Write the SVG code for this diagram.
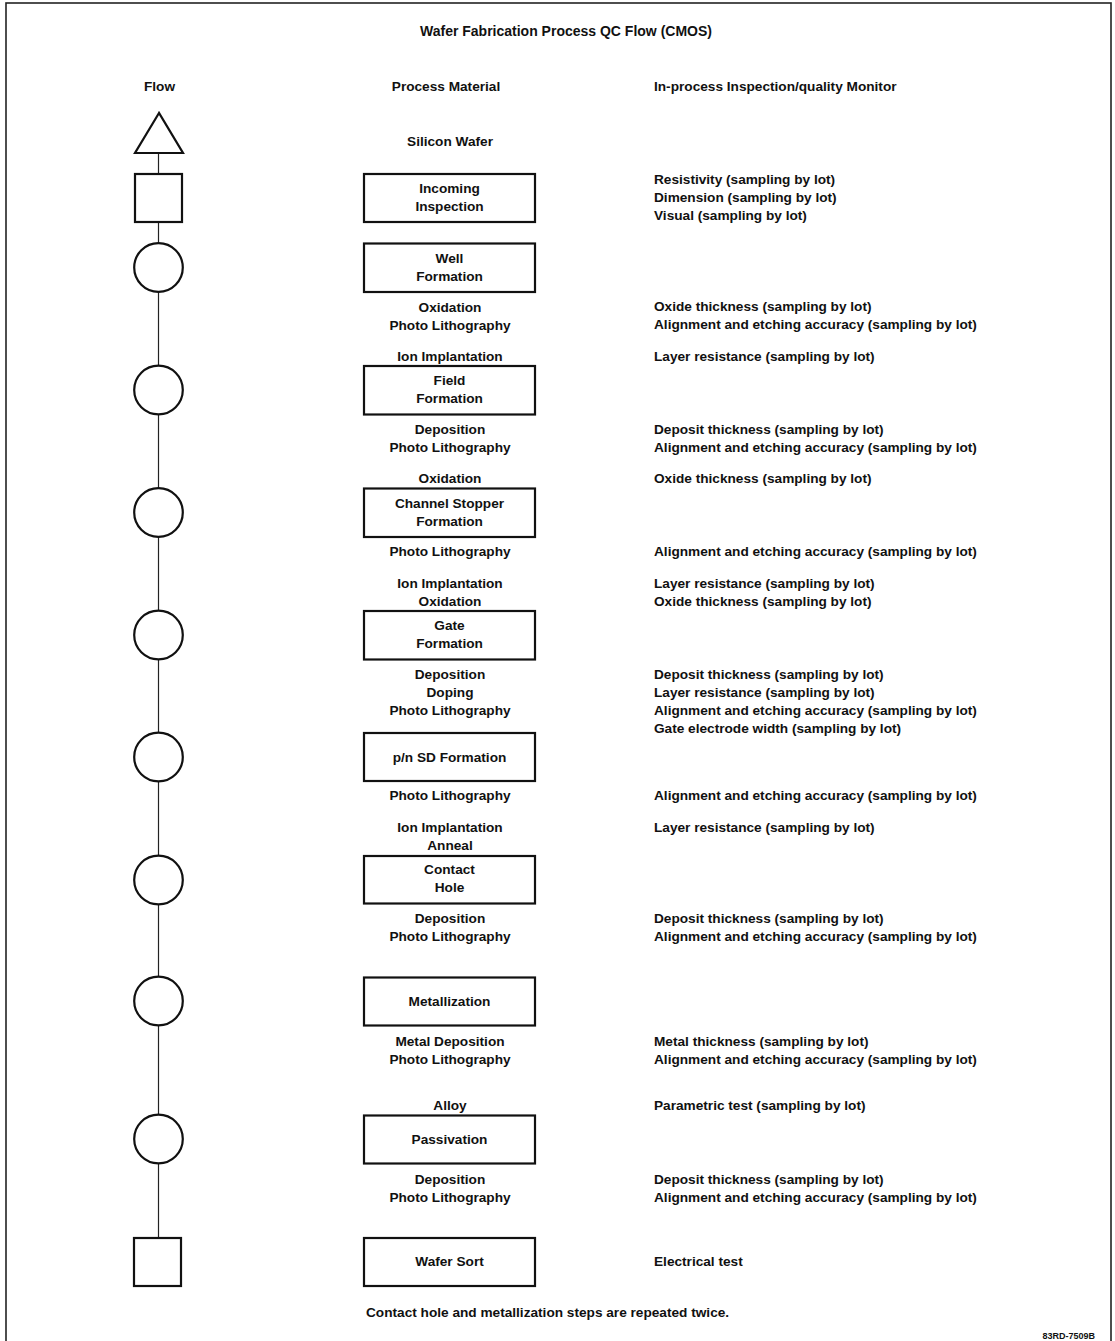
<svg xmlns="http://www.w3.org/2000/svg" width="1115" height="1341" viewBox="0 0 1115 1341">
  <style>
    text { font-family: "Liberation Sans", Arial, sans-serif; font-weight: bold; font-size: 13.65px; fill: #111; }
    .c { text-anchor: middle; }
    .title { font-size: 14px; }
    .sym { fill: #fff; stroke: #111; stroke-width: 2.2; }
    .box { fill: #fff; stroke: #111; stroke-width: 2.2; }
    .link { stroke: #222; stroke-width: 1.2; fill: none; }
    .frame { fill: none; stroke: #222; stroke-width: 1.6; }
    .tag { font-size: 9px; }
  </style>
  <rect width="1115" height="1341" fill="#fff"/>
  <rect class="frame" x="6" y="3" width="1105" height="1345"/>

  <!-- headings -->
  <g id="headings">
    <text class="c title" x="566" y="36">Wafer Fabrication Process QC Flow (CMOS)</text>
    <text class="c" x="159.5" y="91">Flow</text>
    <text class="c" x="446" y="91">Process Material</text>
    <text x="654" y="91">In-process Inspection/quality Monitor</text>
  </g>

  <!-- vertical flow line between symbols -->
  <g id="connectors">
    <line class="link" x1="158.5" y1="153" x2="158.5" y2="174"/>
    <line class="link" x1="158.5" y1="222" x2="158.5" y2="243"/>
    <line class="link" x1="158.5" y1="292" x2="158.5" y2="366"/>
    <line class="link" x1="158.5" y1="414" x2="158.5" y2="488"/>
    <line class="link" x1="158.5" y1="537" x2="158.5" y2="611"/>
    <line class="link" x1="158.5" y1="659" x2="158.5" y2="733"/>
    <line class="link" x1="158.5" y1="781" x2="158.5" y2="856"/>
    <line class="link" x1="158.5" y1="904" x2="158.5" y2="977"/>
    <line class="link" x1="158.5" y1="1025" x2="158.5" y2="1115"/>
    <line class="link" x1="158.5" y1="1163" x2="158.5" y2="1238"/>
  </g>

  <!-- flow symbols -->
  <g id="flow-material"><polygon class="sym" points="159,113 135,153 183,153"/></g>
  <g id="flow-incoming"><rect class="sym" x="135" y="174" width="47" height="48"/></g>
  <g id="flow-well"><circle class="sym" cx="158.5" cy="267.5" r="24.3"/></g>
  <g id="flow-field"><circle class="sym" cx="158.5" cy="390" r="24.3"/></g>
  <g id="flow-stopper"><circle class="sym" cx="158.5" cy="512.5" r="24.3"/></g>
  <g id="flow-gate"><circle class="sym" cx="158.5" cy="635" r="24.3"/></g>
  <g id="flow-sd"><circle class="sym" cx="158.5" cy="757" r="24.3"/></g>
  <g id="flow-contact"><circle class="sym" cx="158.5" cy="880" r="24.3"/></g>
  <g id="flow-metal"><circle class="sym" cx="158.5" cy="1001" r="24.3"/></g>
  <g id="flow-passivation"><circle class="sym" cx="158.5" cy="1139" r="24.3"/></g>
  <g id="flow-sort"><rect class="sym" x="134" y="1238" width="47" height="48"/></g>

  <!-- process material column -->
  <g id="silicon-wafer"><text class="c" x="450" y="146">Silicon Wafer</text></g>

  <g id="incoming-inspection">
    <rect class="box" x="364" y="174" width="171" height="48"/>
    <text class="c" x="449.5" y="193">Incoming</text>
    <text class="c" x="449.5" y="211">Inspection</text>
  </g>

  <g id="well-formation">
    <rect class="box" x="364" y="243.5" width="171" height="48.5"/>
    <text class="c" x="449.5" y="262.5">Well</text>
    <text class="c" x="449.5" y="280.5">Formation</text>
  </g>
  <g id="well-steps">
    <text class="c" x="450" y="311.5">Oxidation</text>
    <text class="c" x="450" y="329.5">Photo Lithography</text>
    <text class="c" x="450" y="361">Ion Implantation</text>
  </g>

  <g id="field-formation">
    <rect class="box" x="364" y="366" width="171" height="48.5"/>
    <text class="c" x="449.5" y="385">Field</text>
    <text class="c" x="449.5" y="403">Formation</text>
  </g>
  <g id="field-steps">
    <text class="c" x="450" y="434">Deposition</text>
    <text class="c" x="450" y="452">Photo Lithography</text>
    <text class="c" x="450" y="483">Oxidation</text>
  </g>

  <g id="channel-stopper-formation">
    <rect class="box" x="364" y="488.5" width="171" height="48.5"/>
    <text class="c" x="449.5" y="507.5">Channel Stopper</text>
    <text class="c" x="449.5" y="525.5">Formation</text>
  </g>
  <g id="stopper-steps">
    <text class="c" x="450" y="556">Photo Lithography</text>
    <text class="c" x="450" y="588">Ion Implantation</text>
    <text class="c" x="450" y="606">Oxidation</text>
  </g>

  <g id="gate-formation">
    <rect class="box" x="364" y="611" width="171" height="48.5"/>
    <text class="c" x="449.5" y="630">Gate</text>
    <text class="c" x="449.5" y="648">Formation</text>
  </g>
  <g id="gate-steps">
    <text class="c" x="450" y="679">Deposition</text>
    <text class="c" x="450" y="697">Doping</text>
    <text class="c" x="450" y="715">Photo Lithography</text>
  </g>

  <g id="sd-formation">
    <rect class="box" x="364" y="733" width="171" height="48"/>
    <text class="c" x="449.5" y="761.5">p/n SD Formation</text>
  </g>
  <g id="sd-steps">
    <text class="c" x="450" y="800">Photo Lithography</text>
    <text class="c" x="450" y="832">Ion Implantation</text>
    <text class="c" x="450" y="850">Anneal</text>
  </g>

  <g id="contact-hole">
    <rect class="box" x="364" y="856" width="171" height="47.5"/>
    <text class="c" x="449.5" y="874">Contact</text>
    <text class="c" x="449.5" y="892">Hole</text>
  </g>
  <g id="contact-steps">
    <text class="c" x="450" y="923">Deposition</text>
    <text class="c" x="450" y="941">Photo Lithography</text>
  </g>

  <g id="metallization">
    <rect class="box" x="364" y="977.5" width="171" height="48"/>
    <text class="c" x="449.5" y="1006">Metallization</text>
  </g>
  <g id="metal-steps">
    <text class="c" x="450" y="1046">Metal Deposition</text>
    <text class="c" x="450" y="1064">Photo Lithography</text>
    <text class="c" x="450" y="1110">Alloy</text>
  </g>

  <g id="passivation">
    <rect class="box" x="364" y="1115.5" width="171" height="48"/>
    <text class="c" x="449.5" y="1144">Passivation</text>
  </g>
  <g id="passivation-steps">
    <text class="c" x="450" y="1184">Deposition</text>
    <text class="c" x="450" y="1202">Photo Lithography</text>
  </g>

  <g id="wafer-sort">
    <rect class="box" x="364" y="1238" width="171" height="48"/>
    <text class="c" x="449.5" y="1266">Wafer Sort</text>
  </g>

  <!-- inspection / quality monitor column -->
  <g id="monitors">
    <text x="654" y="184">Resistivity (sampling by lot)</text>
    <text x="654" y="202">Dimension (sampling by lot)</text>
    <text x="654" y="220">Visual (sampling by lot)</text>

    <text x="654" y="311">Oxide thickness (sampling by lot)</text>
    <text x="654" y="329">Alignment and etching accuracy (sampling by lot)</text>
    <text x="654" y="361">Layer resistance (sampling by lot)</text>

    <text x="654" y="434">Deposit thickness (sampling by lot)</text>
    <text x="654" y="452">Alignment and etching accuracy (sampling by lot)</text>
    <text x="654" y="483">Oxide thickness (sampling by lot)</text>

    <text x="654" y="556">Alignment and etching accuracy (sampling by lot)</text>
    <text x="654" y="588">Layer resistance (sampling by lot)</text>
    <text x="654" y="606">Oxide thickness (sampling by lot)</text>

    <text x="654" y="679">Deposit thickness (sampling by lot)</text>
    <text x="654" y="697">Layer resistance (sampling by lot)</text>
    <text x="654" y="715">Alignment and etching accuracy (sampling by lot)</text>
    <text x="654" y="733">Gate electrode width (sampling by lot)</text>

    <text x="654" y="800">Alignment and etching accuracy (sampling by lot)</text>
    <text x="654" y="832">Layer resistance (sampling by lot)</text>

    <text x="654" y="923">Deposit thickness (sampling by lot)</text>
    <text x="654" y="941">Alignment and etching accuracy (sampling by lot)</text>

    <text x="654" y="1046">Metal thickness (sampling by lot)</text>
    <text x="654" y="1064">Alignment and etching accuracy (sampling by lot)</text>
    <text x="654" y="1110">Parametric test (sampling by lot)</text>

    <text x="654" y="1184">Deposit thickness (sampling by lot)</text>
    <text x="654" y="1202">Alignment and etching accuracy (sampling by lot)</text>

    <text x="654" y="1266">Electrical test</text>
  </g>

  <!-- footnote and drawing number -->
  <g id="notes">
    <text x="366" y="1317">Contact hole and metallization steps are repeated twice.</text>
    <text class="tag" x="1095" y="1338.5" text-anchor="end">83RD-7509B</text>
  </g>
</svg>
